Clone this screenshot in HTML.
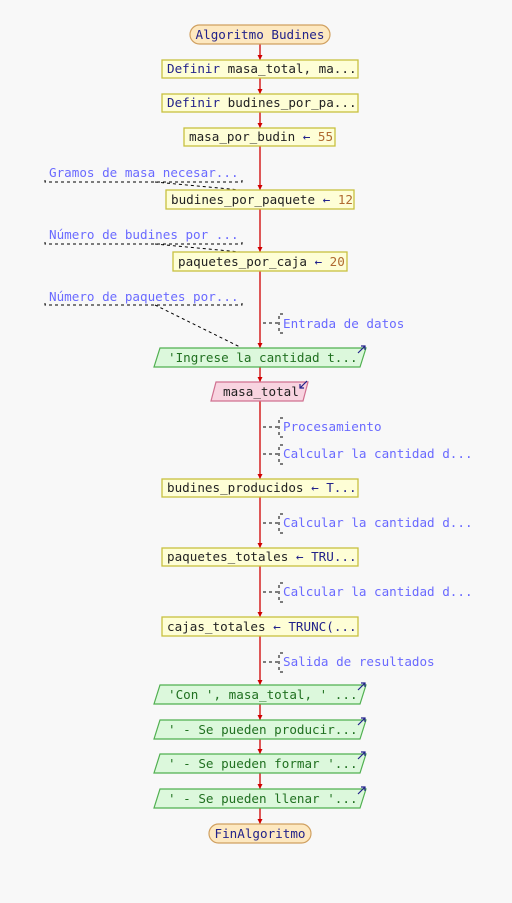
<!DOCTYPE html>
<html><head><meta charset="utf-8"><style>
html,body{margin:0;padding:0;background:#f8f8f8;}
svg{display:block;}
text{font-family:"DejaVu Sans Mono","Liberation Mono",monospace;font-size:12.6px;}
.k{fill:#22228a}.v{fill:#222}.n{fill:#b06a30}.c{fill:#6a6aff}.o{fill:#207020}
.p{fill:#fefed6;stroke:#c8c040;stroke-width:1.3}
.g{fill:#dcf8dc;stroke:#50b050;stroke-width:1.2}
.d{stroke:#000;stroke-width:1;stroke-dasharray:3,3;fill:none}
</style></head><body>
<svg width="512" height="903" viewBox="0 0 512 903" xmlns="http://www.w3.org/2000/svg">
<defs><marker id="a" markerUnits="userSpaceOnUse" markerWidth="6" markerHeight="5" refX="5" refY="2.5" orient="auto"><path d="M0,0 L5,2.5 L0,5z" fill="#d00000"/></marker></defs>
<rect width="512" height="903" fill="#f8f8f8"/>
<g stroke="#d00000" stroke-width="1.3" fill="none" marker-end="url(#a)">
<line x1="260" y1="44" x2="260" y2="60"/>
<line x1="260" y1="78" x2="260" y2="94"/>
<line x1="260" y1="112" x2="260" y2="128"/>
<line x1="260" y1="146" x2="260" y2="190"/>
<line x1="260" y1="209" x2="260" y2="252"/>
<line x1="260" y1="271" x2="260" y2="348"/>
<line x1="260" y1="367" x2="260" y2="382"/>
<line x1="260" y1="401" x2="260" y2="479"/>
<line x1="260" y1="497" x2="260" y2="548"/>
<line x1="260" y1="566" x2="260" y2="617"/>
<line x1="260" y1="636" x2="260" y2="685"/>
<line x1="260" y1="704" x2="260" y2="720"/>
<line x1="260" y1="739" x2="260" y2="754"/>
<line x1="260" y1="773" x2="260" y2="789"/>
<line x1="260" y1="808" x2="260" y2="824"/>
</g>
<rect x="190" y="25" width="140" height="19" rx="9.5" fill="#fde8c0" stroke="#d0a060" stroke-width="1.2"/>
<text x="260" y="39" text-anchor="middle" class="k">Algoritmo Budines</text>
<rect x="162" y="60" width="196" height="18" class="p"/>
<text x="167" y="73"><tspan class="k">Definir</tspan><tspan class="v"> masa_total, ma...</tspan></text>
<rect x="162" y="94" width="196" height="18" class="p"/>
<text x="167" y="107"><tspan class="k">Definir</tspan><tspan class="v"> budines_por_pa...</tspan></text>
<rect x="184" y="128" width="151" height="18" class="p"/>
<text x="189" y="141"><tspan class="v">masa_por_budin </tspan><tspan class="k">←</tspan><tspan class="n"> 55</tspan></text>
<text x="49" y="177" class="c">Gramos de masa necesar...</text>
<path d="M45,180 V182 H242 V180" class="d"/>
<path d="M155,182 L240,190" class="d"/>
<rect x="166" y="190" width="188" height="19" class="p"/>
<text x="171" y="204"><tspan class="v">budines_por_paquete </tspan><tspan class="k">←</tspan><tspan class="n"> 12</tspan></text>
<text x="49" y="239" class="c">Número de budines por ...</text>
<path d="M45,242 V244 H242 V242" class="d"/>
<path d="M155,244 L240,252" class="d"/>
<rect x="173" y="252" width="174" height="19" class="p"/>
<text x="178" y="266"><tspan class="v">paquetes_por_caja </tspan><tspan class="k">←</tspan><tspan class="n"> 20</tspan></text>
<text x="49" y="301" class="c">Número de paquetes por...</text>
<path d="M45,303 V305 H242 V303" class="d"/>
<path d="M155,305 L240,347" class="d"/>
<g>
<path d="M263,323 H278 M283,314 H279 V333 H283" class="d" stroke-dasharray="3,2"/>
<text x="283" y="328" class="c">Entrada de datos</text>
<path d="M263,427 H278 M283,418 H279 V437 H283" class="d" stroke-dasharray="3,2"/>
<text x="283" y="431" class="c">Procesamiento</text>
<path d="M263,454 H278 M283,445 H279 V464 H283" class="d" stroke-dasharray="3,2"/>
<text x="283" y="458" class="c">Calcular la cantidad d...</text>
<path d="M263,523 H278 M283,514 H279 V533 H283" class="d" stroke-dasharray="3,2"/>
<text x="283" y="527" class="c">Calcular la cantidad d...</text>
<path d="M263,592 H278 M283,583 H279 V602 H283" class="d" stroke-dasharray="3,2"/>
<text x="283" y="596" class="c">Calcular la cantidad d...</text>
<path d="M263,662 H278 M283,653 H279 V672 H283" class="d" stroke-dasharray="3,2"/>
<text x="283" y="666" class="c">Salida de resultados</text>
</g>
<polygon points="160,348 366,348 360,367 154,367" class="g"/>
<text x="168" y="362" class="o">'Ingrese la cantidad t...</text>
<path d="M358,353 L365,346 M361,346 H365 V350" stroke="#22228a" stroke-width="1.2" fill="none"/>
<polygon points="216,382 308,382 303,401 211,401" fill="#f8d4e0" stroke="#d07090" stroke-width="1.2"/>
<text x="223" y="396" class="v">masa_total</text>
<path d="M300,388 L307,381 M300,384 V388 H304" stroke="#22228a" stroke-width="1.2" fill="none"/>
<rect x="162" y="479" width="196" height="18" class="p"/>
<text x="167" y="492"><tspan class="v">budines_producidos </tspan><tspan class="k">← T...</tspan></text>
<rect x="162" y="548" width="196" height="18" class="p"/>
<text x="167" y="561"><tspan class="v">paquetes_totales </tspan><tspan class="k">← TRU...</tspan></text>
<rect x="162" y="617" width="196" height="19" class="p"/>
<text x="167" y="631"><tspan class="v">cajas_totales </tspan><tspan class="k">← TRUNC(...</tspan></text>
<g>
<polygon points="160,685 366,685 360,704 154,704" class="g"/>
<text x="168" y="699" class="o">'Con ', masa_total, ' ...</text>
<path d="M358,690 L365,683 M361,683 H365 V687" stroke="#22228a" stroke-width="1.2" fill="none"/>
<polygon points="160,720 366,720 360,739 154,739" class="g"/>
<text x="168" y="734" class="o">' - Se pueden producir...</text>
<path d="M358,725 L365,718 M361,718 H365 V722" stroke="#22228a" stroke-width="1.2" fill="none"/>
<polygon points="160,754 366,754 360,773 154,773" class="g"/>
<text x="168" y="768" class="o">' - Se pueden formar '...</text>
<path d="M358,759 L365,752 M361,752 H365 V756" stroke="#22228a" stroke-width="1.2" fill="none"/>
<polygon points="160,789 366,789 360,808 154,808" class="g"/>
<text x="168" y="803" class="o">' - Se pueden llenar '...</text>
<path d="M358,794 L365,787 M361,787 H365 V791" stroke="#22228a" stroke-width="1.2" fill="none"/>
</g>
<rect x="209" y="824" width="102" height="19" rx="9.5" fill="#fde8c0" stroke="#d0a060" stroke-width="1.2"/>
<text x="260" y="838" text-anchor="middle" class="k">FinAlgoritmo</text>
</svg>
</body></html>
